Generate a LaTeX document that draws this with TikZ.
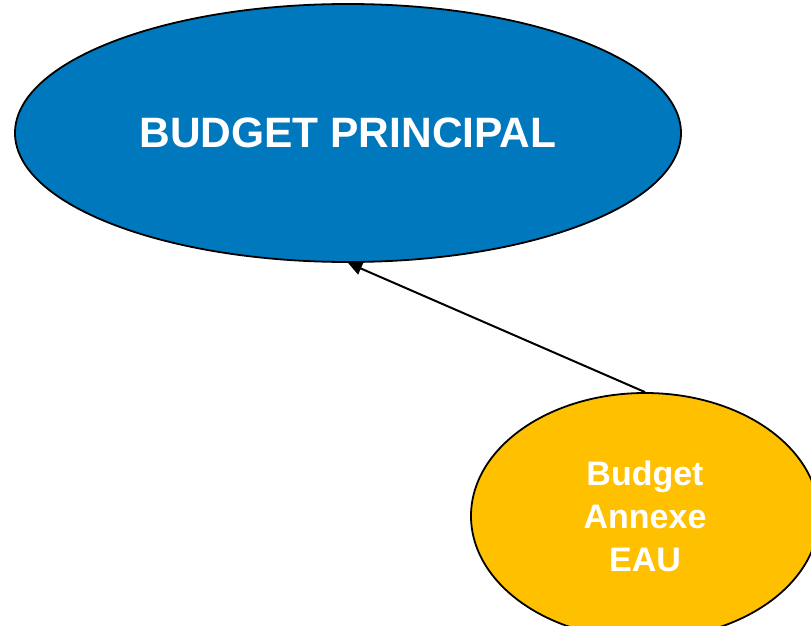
\documentclass[tikz,border=0pt]{standalone}
\usepackage{fontspec}
\setmainfont{Liberation Sans}
\usetikzlibrary{shapes.geometric,arrows.meta}
\definecolor{bblue}{HTML}{0078BE}
\definecolor{byellow}{HTML}{FFC000}
\begin{document}
\begin{tikzpicture}[x=1pt,y=1pt,
  bubble/.style={ellipse,draw=black,line width=1.8pt,inner sep=0pt,text=white,font=\bfseries,align=center}]
\useasboundingbox (0,0) rectangle (811,-626);
\clip (0,0) rectangle (811,-626);
\node[bubble,fill=bblue,minimum width=666pt,minimum height=258pt,font=\bfseries\fontsize{42.5}{48}\selectfont] (main) at (348,-133) {BUDGET PRINCIPAL};
\node[bubble,fill=byellow,minimum width=348pt,minimum height=246pt,font=\bfseries\fontsize{34}{43}\selectfont] (eau) at (645,-516) {Budget\\Annexe\\EAU};
\draw[line width=2pt,-{Triangle[length=14pt,width=13pt]}] (eau.north) -- (main.south);
\end{tikzpicture}
\end{document}
